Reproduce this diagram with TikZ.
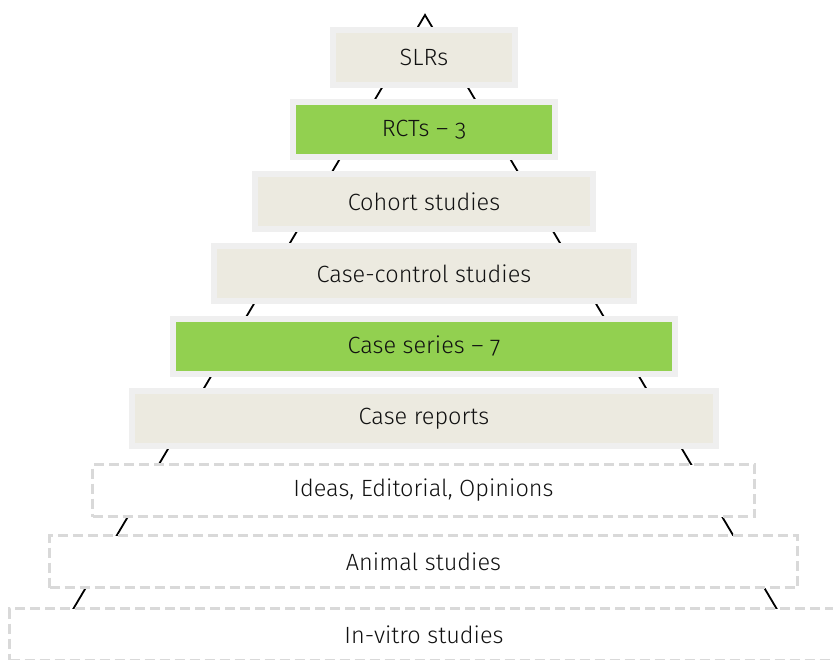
\documentclass[tikz,border=0pt]{standalone}
\usepackage{fontspec}
\setmainfont{Fira Sans Light}[Numbers=OldStyle]
\definecolor{tierfill}{HTML}{ECEAE0}
\definecolor{hitfill}{HTML}{92D050}
\definecolor{tierrim}{HTML}{EFEFEF}
\definecolor{dashrim}{HTML}{D9D9D9}
\definecolor{ink}{HTML}{111111}
\begin{document}
\begin{tikzpicture}[x=1pt,y=-1pt,
  label text/.style={font=\fontsize{23.5}{27}\selectfont, text=ink},
  tier/.style={label text, rectangle, draw=tierrim, line width=6pt, fill=tierfill,
    minimum height=55pt, inner sep=0pt, outer sep=0pt},
  hit/.style={tier, fill=hitfill},
  opentier/.style={label text, rectangle, draw=dashrim, line width=3pt, fill=white,
    dash pattern=on 10pt off 5pt, minimum height=52pt, inner sep=0pt, outer sep=0pt},
  pyramid/.style={draw=black, line width=1.8pt, line join=miter}]
\useasboundingbox (0,0) rectangle (833,659);
% pyramid outline behind the tiers
\coordinate (apex) at (425,15);
\coordinate (baseL) at (43,660);
\coordinate (baseR) at (807,660);
\draw[pyramid] (baseL) -- (apex) -- (baseR);
% evidence tiers, top to bottom
\node[tier, minimum width=182pt] (slr) at (424,57.5) {SLRs};
\node[hit,  minimum width=262pt] (rct) at (424,129.5) {RCTs – 3};
\node[tier, minimum width=338pt] (coh) at (424,201.5) {Cohort studies};
\node[tier, minimum width=420pt] (cc)  at (424,273.5) {Case-control studies};
\node[hit,  minimum width=502pt] (cs)  at (424,346.5) {Case series – 7};
\node[tier, minimum width=584pt] (cr)  at (424,418.5) {Case reports};
\node[opentier, minimum width=662pt] (ideas)  at (423.5,490.5) {Ideas, Editorial, Opinions};
\node[opentier, minimum width=748pt] (animal) at (423.5,561.5) {Animal studies};
\node[opentier, minimum width=829pt] (vitro)  at (424,634.5) {In-vitro studies};
\end{tikzpicture}
\end{document}
